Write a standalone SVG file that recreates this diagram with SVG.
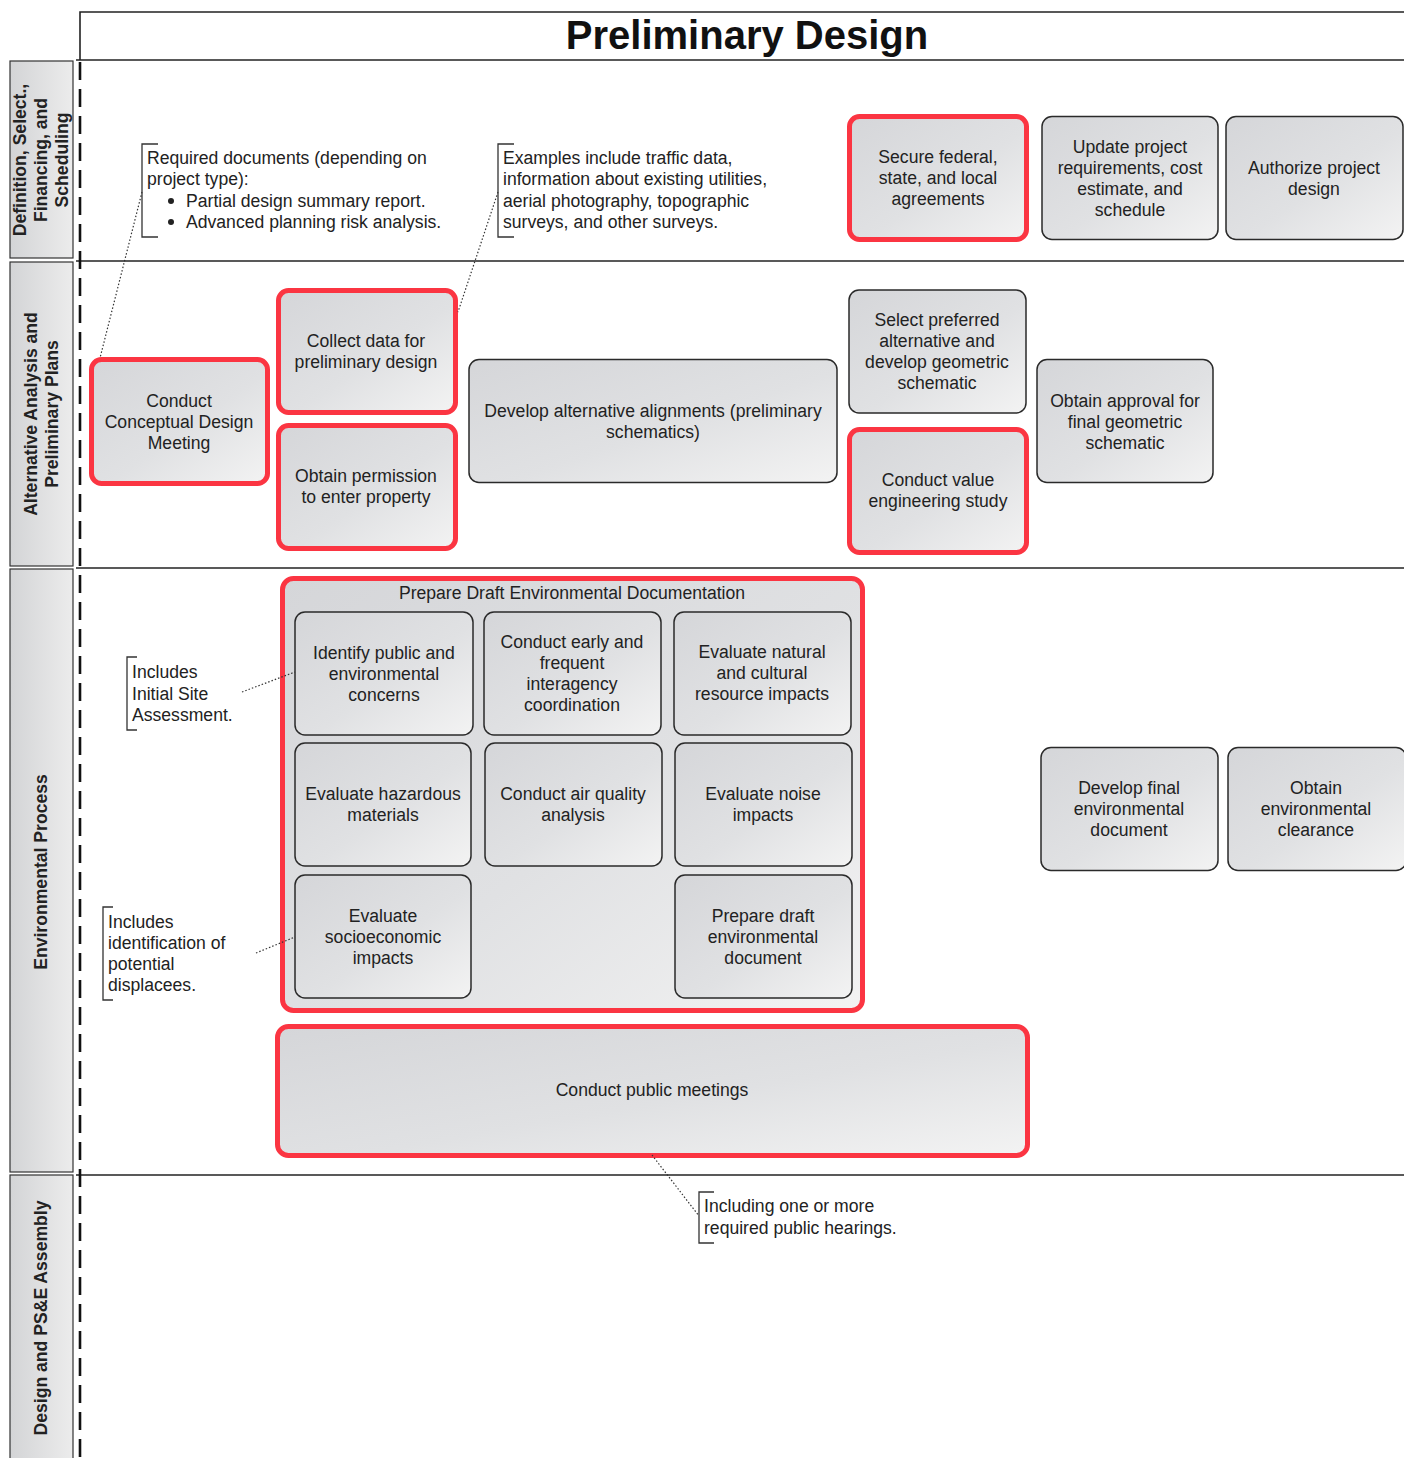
<svg xmlns="http://www.w3.org/2000/svg" width="1404" height="1458" viewBox="0 0 1404 1458">
<defs>
<linearGradient id="ng" x1="0" y1="0" x2="1" y2="1">
<stop offset="0" stop-color="#d5d6d9"/>
<stop offset="0.55" stop-color="#e0e1e3"/>
<stop offset="1" stop-color="#f3f3f3"/>
</linearGradient>
<linearGradient id="lg" x1="0" y1="0" x2="1" y2="0">
<stop offset="0" stop-color="#d3d4d6"/>
<stop offset="1" stop-color="#ececec"/>
</linearGradient>
<style>
.n{fill:url(#ng);stroke:#2a2a2a;stroke-width:1.5}
.r{fill:url(#ng);stroke:#fb3542;stroke-width:5}
.t{font-family:"Liberation Sans",Arial,sans-serif;font-size:17.6px;fill:#222;text-anchor:middle}
.a{font-family:"Liberation Sans",Arial,sans-serif;font-size:17.6px;fill:#222}
.lane{fill:url(#lg);stroke:#333;stroke-width:1.2}
.lt{font-family:"Liberation Sans",Arial,sans-serif;font-size:17.6px;font-weight:bold;fill:#222;text-anchor:middle}
.hl{stroke:#222;stroke-width:1.6;fill:none}
.br{stroke:#333;stroke-width:1.3;fill:none}
.dot{stroke:#333;stroke-width:1.2;stroke-dasharray:1.5 2;fill:none}
</style>
</defs>
<rect width="1404" height="1458" fill="#fff"/>

<g id="frame">
<path class="hl" d="M80,60 V12 H1404"/>
<line class="hl" x1="76" y1="60" x2="1404" y2="60"/>
<line class="hl" x1="76" y1="261" x2="1404" y2="261"/>
<line class="hl" x1="76" y1="568" x2="1404" y2="568"/>
<line class="hl" x1="76" y1="1175" x2="1404" y2="1175"/>
<line x1="80" y1="62" x2="80" y2="1458" stroke="#111" stroke-width="2.6" stroke-dasharray="18 9"/>
<text x="747" y="49" font-family="Liberation Sans,Arial,sans-serif" font-size="40" font-weight="bold" fill="#111" text-anchor="middle">Preliminary Design</text>
</g>

<g id="lanes">
<rect class="lane" x="10" y="61" width="63" height="197"/>
<text class="lt" transform="translate(41,160) rotate(-90)"><tspan x="0" y="-15">Definition, Select.,</tspan><tspan x="0" y="6">Financing, and</tspan><tspan x="0" y="27">Scheduling</tspan></text>
<rect class="lane" x="10" y="262" width="63" height="304"/>
<text class="lt" transform="translate(41,414) rotate(-90)"><tspan x="0" y="-4.5">Alternative Analysis and</tspan><tspan x="0" y="16.5">Preliminary Plans</tspan></text>
<rect class="lane" x="10" y="569" width="63" height="603"/>
<text class="lt" transform="translate(41,872) rotate(-90)"><tspan x="0" y="6">Environmental Process</tspan></text>
<rect class="lane" x="10" y="1175" width="63" height="290"/>
<text class="lt" transform="translate(41,1318) rotate(-90)"><tspan x="0" y="6">Design and PS&amp;E Assembly</tspan></text>
</g>

<g id="notes">
<g id="note-required">
<path class="br" d="M158,144 H142 V237 H158"/>
<text class="a" x="147" y="164">Required documents (depending on</text>
<text class="a" x="147" y="185">project type):</text>
<circle cx="171" cy="201" r="3" fill="#222"/>
<text class="a" x="186" y="207">Partial design summary report.</text>
<circle cx="171" cy="222" r="3" fill="#222"/>
<text class="a" x="186" y="228">Advanced planning risk analysis.</text>
</g>
<g id="note-examples">
<path class="br" d="M514,144 H498 V237 H514"/>
<text class="a" x="503" y="164">Examples include traffic data,</text>
<text class="a" x="503" y="185">information about existing utilities,</text>
<text class="a" x="503" y="207">aerial photography, topographic</text>
<text class="a" x="503" y="228">surveys, and other surveys.</text>
</g>
<g id="note-initial">
<path class="br" d="M137,657 H127 V730 H137"/>
<text class="a" x="132" y="678">Includes</text>
<text class="a" x="132" y="700">Initial Site</text>
<text class="a" x="132" y="721">Assessment.</text>
</g>
<g id="note-displacees">
<path class="br" d="M113,907 H103 V1000 H113"/>
<text class="a" x="108" y="928">Includes</text>
<text class="a" x="108" y="949">identification of</text>
<text class="a" x="108" y="970">potential</text>
<text class="a" x="108" y="991">displacees.</text>
</g>
<g id="note-hearings">
<path class="br" d="M714,1192 H699 V1243 H714"/>
<text class="a" x="704" y="1212">Including one or more</text>
<text class="a" x="704" y="1234">required public hearings.</text>
</g>
</g>

<g id="n-secure"><rect class="r" x="849.5" y="116.5" width="177" height="123" rx="10"/>
<text class="t" x="938"><tspan x="938" y="163">Secure federal,</tspan><tspan x="938" y="184">state, and local</tspan><tspan x="938" y="205">agreements</tspan></text></g>
<g id="n-update"><rect class="n" x="1042" y="116.5" width="176" height="123" rx="10"/>
<text class="t"><tspan x="1130" y="152.5">Update project</tspan><tspan x="1130" y="173.5">requirements, cost</tspan><tspan x="1130" y="194.5">estimate, and</tspan><tspan x="1130" y="215.5">schedule</tspan></text></g>
<g id="n-authorize"><rect class="n" x="1226" y="116.5" width="177" height="123" rx="10"/>
<text class="t"><tspan x="1314" y="173.5">Authorize project</tspan><tspan x="1314" y="194.5">design</tspan></text></g>

<g id="n-conceptual"><rect class="r" x="91.5" y="359.5" width="176" height="124" rx="10"/>
<text class="t"><tspan x="179" y="406.5">Conduct</tspan><tspan x="179" y="427.5">Conceptual Design</tspan><tspan x="179" y="448.5">Meeting</tspan></text></g>
<g id="n-collect"><rect class="r" x="278.5" y="290.5" width="177" height="122" rx="10"/>
<text class="t"><tspan x="366" y="346.5">Collect data for</tspan><tspan x="366" y="367.5">preliminary design</tspan></text></g>
<g id="n-permission"><rect class="r" x="278.5" y="425.5" width="177" height="123" rx="10"/>
<text class="t"><tspan x="366" y="482">Obtain permission</tspan><tspan x="366" y="503">to enter property</tspan></text></g>
<g id="n-alternatives"><rect class="n" x="469" y="359.5" width="368" height="123" rx="10"/>
<text class="t"><tspan x="653" y="416.5">Develop alternative alignments (preliminary</tspan><tspan x="653" y="437.5">schematics)</tspan></text></g>
<g id="n-select"><rect class="n" x="849" y="290" width="177" height="123" rx="10"/>
<text class="t"><tspan x="937" y="326">Select preferred</tspan><tspan x="937" y="347">alternative and</tspan><tspan x="937" y="368">develop geometric</tspan><tspan x="937" y="389">schematic</tspan></text></g>
<g id="n-value"><rect class="r" x="849.5" y="429.5" width="177" height="123" rx="10"/>
<text class="t"><tspan x="938" y="486">Conduct value</tspan><tspan x="938" y="507">engineering study</tspan></text></g>
<g id="n-approval"><rect class="n" x="1037" y="359.5" width="176" height="123" rx="10"/>
<text class="t"><tspan x="1125" y="406.5">Obtain approval for</tspan><tspan x="1125" y="427.5">final geometric</tspan><tspan x="1125" y="448.5">schematic</tspan></text></g>

<g id="n-draft-env">
<rect class="r" x="282.5" y="578.5" width="580" height="432" rx="11"/>
<text class="t" x="572" y="599">Prepare Draft Environmental Documentation</text>
<g id="n-identify"><rect class="n" x="295" y="612" width="178" height="123" rx="10"/>
<text class="t"><tspan x="384" y="658.5">Identify public and</tspan><tspan x="384" y="679.5">environmental</tspan><tspan x="384" y="700.5">concerns</tspan></text></g>
<g id="n-interagency"><rect class="n" x="484" y="612" width="177" height="123" rx="10"/>
<text class="t"><tspan x="572" y="648">Conduct early and</tspan><tspan x="572" y="669">frequent</tspan><tspan x="572" y="690">interagency</tspan><tspan x="572" y="711">coordination</tspan></text></g>
<g id="n-natural"><rect class="n" x="674" y="612" width="177" height="123" rx="10"/>
<text class="t"><tspan x="762" y="657.5">Evaluate natural</tspan><tspan x="762" y="678.5">and cultural</tspan><tspan x="762" y="699.5">resource impacts</tspan></text></g>
<g id="n-hazardous"><rect class="n" x="295" y="743" width="176" height="123" rx="10"/>
<text class="t"><tspan x="383" y="800">Evaluate hazardous</tspan><tspan x="383" y="821">materials</tspan></text></g>
<g id="n-air"><rect class="n" x="485" y="743" width="177" height="123" rx="10"/>
<text class="t"><tspan x="573" y="800">Conduct air quality</tspan><tspan x="573" y="821">analysis</tspan></text></g>
<g id="n-noise"><rect class="n" x="675" y="743" width="177" height="123" rx="10"/>
<text class="t"><tspan x="763" y="800">Evaluate noise</tspan><tspan x="763" y="821">impacts</tspan></text></g>
<g id="n-socio"><rect class="n" x="295" y="875" width="176" height="123" rx="10"/>
<text class="t"><tspan x="383" y="921.5">Evaluate</tspan><tspan x="383" y="942.5">socioeconomic</tspan><tspan x="383" y="963.5">impacts</tspan></text></g>
<g id="n-draftdoc"><rect class="n" x="675" y="875" width="177" height="123" rx="10"/>
<text class="t"><tspan x="763" y="921.5">Prepare draft</tspan><tspan x="763" y="942.5">environmental</tspan><tspan x="763" y="963.5">document</tspan></text></g>
</g>

<g id="n-final-env"><rect class="n" x="1041" y="747.5" width="177" height="123" rx="10"/>
<text class="t"><tspan x="1129" y="794">Develop final</tspan><tspan x="1129" y="815">environmental</tspan><tspan x="1129" y="836">document</tspan></text></g>
<g id="n-clearance"><rect class="n" x="1228" y="747.5" width="178" height="123" rx="10"/>
<text class="t"><tspan x="1316" y="794">Obtain</tspan><tspan x="1316" y="815">environmental</tspan><tspan x="1316" y="836">clearance</tspan></text></g>

<g id="n-public"><rect class="r" x="277.5" y="1026.5" width="750" height="129" rx="11"/>
<text class="t" x="652" y="1096">Conduct public meetings</text></g>

<g id="connectors">
<path class="dot" d="M142,192 L100,358"/>
<path class="dot" d="M498,192 L458,312"/>
<path class="dot" d="M242,692 L295,672"/>
<path class="dot" d="M256,953 L295,937"/>
<path class="dot" d="M652,1155 L699,1216"/>
</g>
</svg>
